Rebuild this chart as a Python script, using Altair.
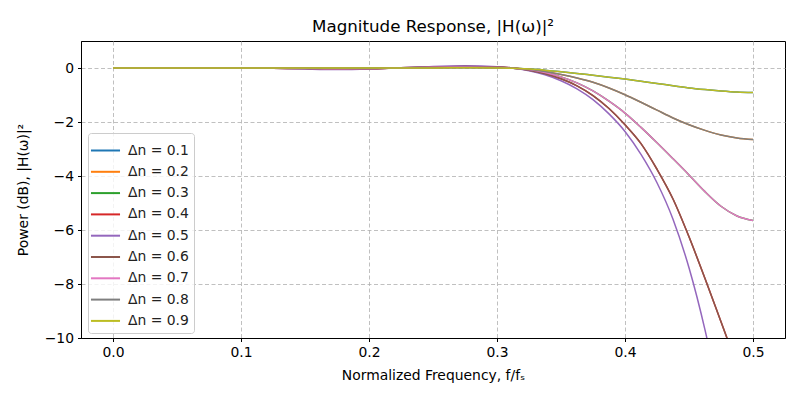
import altair as alt
import pandas as pd

freq = [0, 0.05, 0.1, 0.125, 0.15, 0.175, 0.2, 0.225, 0.25, 0.275, 0.3, 0.3125,
        0.325, 0.3375, 0.35, 0.3625, 0.375, 0.3875, 0.4, 0.4125, 0.425, 0.4375,
        0.45, 0.4625, 0.475, 0.4875, 0.5]

dn_01 = [0, 0, 0, 0, 0, 0, 0, 0, 0, 0.01, 0.0, -0.01, -0.04, -0.08, -0.14, -0.2,
         -0.27, -0.34, -0.41, -0.49, -0.57, -0.66, -0.74, -0.8, -0.85, -0.89, -0.91]
dn_02 = [0, 0, 0, 0, 0, -0.01, -0.01, 0.0, 0.01, 0.02, 0.01, -0.01, -0.05, -0.13,
         -0.24, -0.37, -0.53, -0.74, -0.99, -1.27, -1.56, -1.85, -2.1, -2.31,
         -2.48, -2.59, -2.65]
dn_03 = [0, 0, 0, 0, -0.01, -0.03, -0.02, 0.0, 0.03, 0.04, 0.02, -0.01, -0.06,
         -0.17, -0.33, -0.55, -0.85, -1.23, -1.67, -2.2, -2.77, -3.36, -3.96,
         -4.58, -5.12, -5.48, -5.65]
dn_04 = [0, 0, 0, -0.01, -0.02, -0.04, -0.03, 0.01, 0.04, 0.06, 0.04, 0.0, -0.08,
         -0.21, -0.4, -0.66, -1.02, -1.5, -2.1, -2.8, -3.75, -4.85, -6.25, -7.8,
         -9.4, -11.0, -12.5]
dn_05 = [0, 0, 0, -0.01, -0.04, -0.06, -0.04, 0.01, 0.06, 0.08, 0.05, 0.0, -0.1,
         -0.25, -0.47, -0.77, -1.17, -1.7, -2.35, -3.2, -4.25, -5.6, -7.4, -9.7,
         -12.5, -15.8, -19.6]
dn_06 = list(dn_04)
dn_07 = list(dn_03)
dn_08 = list(dn_02)
dn_09 = list(dn_01)

labels = ["Δn = 0.1", "Δn = 0.2", "Δn = 0.3", "Δn = 0.4", "Δn = 0.5",
          "Δn = 0.6", "Δn = 0.7", "Δn = 0.8", "Δn = 0.9"]
series = [dn_01, dn_02, dn_03, dn_04, dn_05, dn_06, dn_07, dn_08, dn_09]
colors = ["#1f77b4", "#ff7f0e", "#2ca02c", "#d62728", "#9467bd",
          "#8c564b", "#e377c2", "#7f7f7f", "#bcbd22"]

x_ticks = [0, 0.1, 0.2, 0.3, 0.4, 0.5]
y_ticks = [-10, -8, -6, -4, -2, 0]

rows = []
for lab, vals in zip(labels, series):
    for f, v in zip(freq, vals):
        rows.append({"f": f, "dB": v, "label": lab})
df = pd.DataFrame(rows)

chart = alt.Chart(df).mark_line(
    clip=True, strokeWidth=1.5, interpolate="monotone"
).encode(
    x=alt.X("f:Q",
            scale=alt.Scale(domain=[-0.025, 0.525], nice=False, zero=False),
            axis=alt.Axis(values=x_ticks, format=".1f",
                          title="Normalized Frequency, f/fₛ")),
    y=alt.Y("dB:Q",
            scale=alt.Scale(domain=[-10, 1], nice=False, zero=False),
            axis=alt.Axis(values=y_ticks, format="d",
                          title="Power (dB), |H(ω)|²")),
    color=alt.Color("label:N",
                    scale=alt.Scale(domain=labels, range=colors),
                    legend=alt.Legend(
                        title=None, orient="none", legendX=7, legendY=92,
                        symbolType="M-1.3,0L1.3,0", symbolSize=500,
                        symbolStrokeWidth=2,
                        labelFontSize=13.9, labelFont="DejaVu Sans",
                        labelColor="#222222", rowPadding=1.3,
                        padding=5, fillColor="rgba(255,255,255,0.8)",
                        strokeColor="#cccccc", cornerRadius=3,
                        labelOffset=10)),
).properties(
    width=704, height=297,
    title=alt.TitleParams("Magnitude Response, |H(ω)|²", fontSize=16.7,
                          font="DejaVu Sans", fontWeight="normal",
                          color="black", offset=5),
    autosize=alt.AutoSizeParams(type="none"),
    padding={"left": 73, "top": 33, "right": 7, "bottom": 54},
).configure_view(
    stroke="black", strokeWidth=1
).configure_axis(
    domainColor="black", domainWidth=1, tickColor="black", tickSize=3.5,
    tickWidth=1, labelFontSize=13.9, labelFont="DejaVu Sans",
    labelColor="black", labelPadding=4, titleFont="DejaVu Sans",
    titleFontSize=13.9, titleFontWeight="normal", titleColor="black",
    grid=True, gridColor="#b0b0b0", gridDash=[4, 2.5], gridWidth=0.8,
).configure_axisX(
    titlePadding=9
).configure_axisY(
    titlePadding=14
)

chart.save("out.html", embed_options={"renderer": "svg", "actions": False})
